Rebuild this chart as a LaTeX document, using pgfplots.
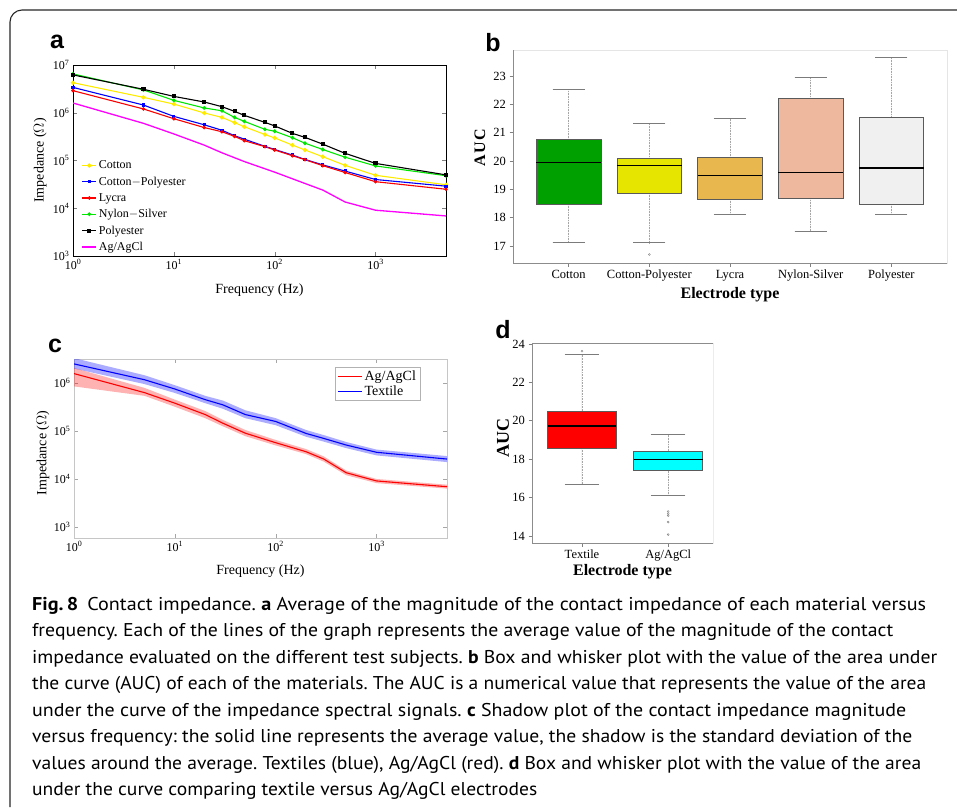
\documentclass[border=0pt]{standalone}
\usepackage{pgfplots}
\pgfplotsset{compat=1.18}
\usepgfplotslibrary{statistics}
\usepackage{graphicx}
\usepackage{fontspec}
\setmainfont{Liberation Serif}
\newfontfamily\capfont{PT Sans}
\newfontfamily\letterfont{Liberation Sans}
\frenchspacing

\definecolor{myyellow}{RGB}{255,235,0}
\definecolor{mygreen}{RGB}{0,230,0}
\definecolor{bgreen}{RGB}{0,160,0}
\definecolor{byellow}{RGB}{229,229,0}
\definecolor{borange}{RGB}{232,184,78}
\definecolor{bsalmon}{RGB}{237,184,158}
\definecolor{bgrey}{RGB}{240,240,240}
\definecolor{boxedge}{RGB}{90,90,90}
\definecolor{dcyan}{RGB}{0,255,255}
\definecolor{dred}{RGB}{255,0,0}
\definecolor{mymag}{RGB}{255,0,255}

% whiskers: dotted stem, solid cap
\pgfplotsset{
  mywhiskers/.style={
    boxplot/draw/lower whisker/.code={%
      \draw[gray!70, densely dotted, line width=0.6pt]
        (boxplot box cs:\pgfplotsboxplotvalue{lower quartile},0.5) --
        (boxplot box cs:\pgfplotsboxplotvalue{lower whisker},0.5);
      \draw[boxedge!80, line width=0.9pt]
        (boxplot whisker cs:\pgfplotsboxplotvalue{lower whisker},0) --
        (boxplot whisker cs:\pgfplotsboxplotvalue{lower whisker},1);
    },
    boxplot/draw/upper whisker/.code={%
      \draw[gray!70, densely dotted, line width=0.6pt]
        (boxplot box cs:\pgfplotsboxplotvalue{upper quartile},0.5) --
        (boxplot box cs:\pgfplotsboxplotvalue{upper whisker},0.5);
      \draw[boxedge!80, line width=0.9pt]
        (boxplot whisker cs:\pgfplotsboxplotvalue{upper whisker},0) --
        (boxplot whisker cs:\pgfplotsboxplotvalue{upper whisker},1);
    },
    boxplot/every median/.style={black, line width=1.3pt},
  },
  mybox/.style={draw=boxedge, line width=0.8pt, mark=o, mark size=1pt,
    mark options={gray, solid, fill=none, line width=0.4pt}},
}

\newcommand{\capline}[3]{%
  \node[anchor=base west, inner sep=0pt] at (32pt,-#1pt)
    {\resizebox{#2pt}{\height}{\capfont\fontsize{18.5}{22}\selectfont #3}};}

\begin{document}
\begin{tikzpicture}[x=1pt,y=1pt]
\useasboundingbox (0,0) rectangle (957,-807);

% figure frame
\draw[line width=1.1pt, black!85, rounded corners=12pt] (10,-807) -- (10,-10) -- (957,-10);

% panel letters
\node[font=\letterfont\bfseries\fontsize{25}{28}\selectfont] at (57,-42) {a};
\node[font=\letterfont\bfseries\fontsize{25}{28}\selectfont] at (493,-43) {b};
\node[font=\letterfont\bfseries\fontsize{25}{28}\selectfont] at (55,-346) {c};
\node[font=\letterfont\bfseries\fontsize{25}{28}\selectfont] at (503,-330) {d};

% ---------------- panel a ----------------
\begin{axis}[
  at={(73pt,-256pt)}, anchor=south west, scale only axis,
  width=373pt, height=191pt,
  xmode=log, ymode=log,
  xmin=1, xmax=5000, ymin=1000, ymax=1e7,
  xtick={1,10,100,1000}, xticklabels={10\textsuperscript{0},10\textsuperscript{1},10\textsuperscript{2},10\textsuperscript{3}},
  ytick={1e3,1e4,1e5,1e6,1e7}, yticklabels={10\textsuperscript{3},10\textsuperscript{4},10\textsuperscript{5},10\textsuperscript{6},10\textsuperscript{7}},
  xminorticks=false, yminorticks=false,
  tick align=inside, major tick length=4pt,
  tick label style={font=\fontsize{12}{14}\selectfont},
  xlabel={Frequency (Hz)}, ylabel={Impedance ($\Omega$)},
  label style={font=\fontsize{14}{16}\selectfont},
  xlabel style={at={(axis description cs:0.5,-0.178)}, anchor=center},
  ylabel style={at={(axis description cs:-0.088,0.5)}, anchor=center},
  axis line style={black, line width=0.8pt},
  every axis plot/.append style={line width=1.1pt},
  legend style={at={(0.02,0.515)}, anchor=north west, draw=none, fill=none,
    font=\fontsize{12}{13}\selectfont, row sep=2.6pt, inner sep=1pt},
  legend cell align=left,
  legend image code/.code={\draw[mark repeat=2,mark phase=2,#1] plot coordinates {(0pt,0pt) (7pt,0pt) (14pt,0pt)};},
]
\addplot[myyellow, mark=*, mark size=1.6pt] coordinates {
 (1,4.26e6) (5,2.1e6) (10,1.52e6) (20,9.9e5) (30,8.0e5) (40,6.2e5) (50,5.1e5) (80,3.5e5)
 (100,2.97e5) (150,2.1e5) (200,1.66e5) (300,1.2e5) (500,7.9e4) (1000,4.9e4) (5000,3.1e4)};
\addlegendentry{Cotton}
\addplot[blue, mark=square*, mark size=1.1pt] coordinates {
 (1,3.4e6) (5,1.45e6) (10,8.4e5) (20,5.6e5) (30,4.3e5) (40,3.3e5) (50,2.8e5) (80,1.98e5)
 (100,1.7e5) (150,1.3e5) (200,1.05e5) (300,8.1e4) (500,6.0e4) (1000,4.0e4) (5000,2.9e4)};
\addlegendentry{Cotton$-$Polyester}
\addplot[red, mark=*, mark size=1.2pt] coordinates {
 (1,2.9e6) (5,1.2e6) (10,7.5e5) (20,4.9e5) (30,4.0e5) (40,3.2e5) (50,2.6e5) (80,1.95e5)
 (100,1.66e5) (150,1.26e5) (200,1.04e5) (300,7.8e4) (500,5.6e4) (1000,3.6e4) (5000,2.5e4)};
\addlegendentry{Lycra}
\addplot[mygreen, mark=*, mark size=1.3pt] coordinates {
 (1,6.5e6) (5,3.0e6) (10,1.82e6) (20,1.26e6) (30,1.1e6) (40,8.0e5) (50,6.6e5) (80,4.5e5)
 (100,4.1e5) (150,3.0e5) (200,2.3e5) (300,1.7e5) (500,1.17e5) (1000,7.7e4) (5000,4.8e4)};
\addlegendentry{Nylon$-$Silver}
\addplot[black, mark=square*, mark size=1.5pt] coordinates {
 (1,6.2e6) (5,3.1e6) (10,2.2e6) (20,1.68e6) (30,1.34e6) (40,1.07e6) (50,8.8e5) (80,6.3e5)
 (100,5.3e5) (150,3.7e5) (200,3.05e5) (300,2.2e5) (500,1.41e5) (1000,8.7e4) (5000,5.0e4)};
\addlegendentry{Polyester}
\addplot[mymag, line width=1.3pt, mark=none] coordinates {
 (1,1.6e6) (5,6.0e5) (10,3.6e5) (20,2.1e5) (30,1.45e5) (50,9.5e4) (100,5.7e4)
 (200,3.3e4) (300,2.4e4) (500,1.35e4) (1000,9.1e3) (5000,6.9e3)};
\addlegendentry{Ag/AgCl}
\end{axis}

% ---------------- panel b ----------------
\begin{axis}[
  at={(513pt,-263pt)}, anchor=south west, scale only axis,
  width=434pt, height=213pt,
  xmin=0.31, xmax=5.69, ymin=16.4, ymax=23.92,
  xtick={1,2,3,4,5}, xticklabels={Cotton,Cotton-Polyester,Lycra,Nylon-Silver,Polyester},
  ytick={17,18,19,20,21,22,23},
  tick align=outside, xtick pos=bottom, ytick pos=left, major tick length=3.5pt,
  tick style={gray, line width=0.8pt},
  tick label style={font=\fontsize{12.5}{14}\selectfont},
  /pgf/number format/assume math mode=true,
  axis line style={gray!20, line width=0.8pt},
  xlabel={\textbf{Electrode type}}, ylabel={\textbf{A\kern1.5pt U\kern1.5pt C}},
  label style={font=\fontsize{16}{18}\selectfont},
  xlabel style={at={(axis description cs:0.5,-0.15)}, anchor=center},
  ylabel style={at={(axis description cs:-0.076,0.54)}, anchor=center},
  boxplot/draw direction=y, boxplot/box extend=0.8, boxplot/whisker extend=0.4,
  mywhiskers,
]
\draw[gray!90, line width=1pt] (rel axis cs:0,1) -- (rel axis cs:0,0) -- (rel axis cs:1,0);
\addplot[mybox, fill=bgreen, boxplot prepared={draw position=1,
  lower whisker=17.12, lower quartile=18.48, median=19.96, upper quartile=20.76, upper whisker=22.54}]
  coordinates {};
\addplot[mybox, fill=byellow, boxplot prepared={draw position=2,
  lower whisker=17.11, lower quartile=18.87, median=19.84, upper quartile=20.1, upper whisker=21.32}]
  coordinates {(0,16.7)};
\addplot[mybox, fill=borange, boxplot prepared={draw position=3,
  lower whisker=18.13, lower quartile=18.65, median=19.49, upper quartile=20.13, upper whisker=21.5}]
  coordinates {};
\addplot[mybox, fill=bsalmon, boxplot prepared={draw position=4,
  lower whisker=17.52, lower quartile=18.68, median=19.6, upper quartile=22.22, upper whisker=22.96}]
  coordinates {};
\addplot[mybox, fill=bgrey, boxplot prepared={draw position=5,
  lower whisker=18.13, lower quartile=18.48, median=19.75, upper quartile=21.53, upper whisker=23.66}]
  coordinates {};
\end{axis}

% ---------------- panel c ----------------
\begin{axis}[
  at={(74pt,-538pt)}, anchor=south west, scale only axis,
  width=373pt, height=179pt,
  xmode=log, ymode=log,
  xmin=1, xmax=5000, ymin=10^2.77, ymax=10^6.5,
  xtick={1,10,100,1000}, xticklabels={10\textsuperscript{0},10\textsuperscript{1},10\textsuperscript{2},10\textsuperscript{3}},
  ytick={1e3,1e4,1e5,1e6}, yticklabels={10\textsuperscript{3},10\textsuperscript{4},10\textsuperscript{5},10\textsuperscript{6}},
  xminorticks=false, yminorticks=false,
  tick align=inside, major tick length=4pt, tick style={gray!70},
  tick label style={font=\fontsize{12}{14}\selectfont},
  xlabel={Frequency (Hz)}, ylabel={Impedance ($\Omega$)},
  label style={font=\fontsize{14}{16}\selectfont},
  xlabel style={at={(axis description cs:0.5,-0.184)}, anchor=center},
  ylabel style={at={(axis description cs:-0.083,0.475)}, anchor=center},
  axis line style={gray!45, line width=0.8pt},
  legend style={at={(0.928,0.955)}, anchor=north east, draw=gray!60,
    font=\fontsize{14}{16}\selectfont, row sep=-1pt, inner sep=2pt},
  legend cell align=left,
  legend image code/.code={\draw[#1] (0pt,0pt) -- (24pt,0pt);},
]
\addplot[draw=none, fill=red, fill opacity=0.3, forget plot] coordinates {
 (1,2.05e6) (5,7.9e5) (10,4.5e5) (20,2.6e5) (30,1.7e5) (50,1.05e5) (100,6.5e4) (200,4.2e4)
 (300,2.95e4) (500,1.5e4) (1000,1.0e4) (5000,7.6e3)
 (5000,6.3e3) (1000,8.2e3) (500,1.2e4) (300,2.3e4) (200,3.3e4) (100,5.0e4) (50,7.8e4)
 (30,1.25e5) (20,1.85e5) (10,3.2e5) (5,5.4e5) (1,8.5e5)} -- cycle;
\addplot[draw=none, fill=blue, fill opacity=0.33, forget plot] coordinates {
 (1,3.3e6) (5,1.45e6) (10,9.0e5) (20,5.4e5) (30,4.3e5) (50,2.7e5) (100,1.85e5) (200,1.05e5)
 (300,8.2e4) (500,5.9e4) (1000,4.1e4) (5000,3.0e4)
 (5000,2.25e4) (1000,3.1e4) (500,4.4e4) (300,6.0e4) (200,7.6e4) (100,1.32e5) (50,1.85e5)
 (30,2.9e5) (20,3.8e5) (10,6.2e5) (5,9.5e5) (1,2.0e6)} -- cycle;
\addplot[red, line width=1.1pt] coordinates {
 (1,1.57e6) (5,6.3e5) (10,3.8e5) (20,2.2e5) (30,1.45e5) (50,9.0e4) (100,5.7e4) (200,3.7e4)
 (300,2.6e4) (500,1.35e4) (1000,9.1e3) (5000,6.9e3)};
\addlegendentry{Ag/AgCl}
\addplot[blue, line width=1.1pt] coordinates {
 (1,2.5e6) (5,1.17e6) (10,7.5e5) (20,4.5e5) (30,3.5e5) (50,2.2e5) (100,1.58e5) (200,8.9e4)
 (300,7.0e4) (500,5.1e4) (1000,3.6e4) (5000,2.6e4)};
\addlegendentry{Textile}
\end{axis}

% ---------------- panel d ----------------
\begin{axis}[
  at={(532pt,-543pt)}, anchor=south west, scale only axis,
  width=181pt, height=200pt,
  xmin=0.42, xmax=2.52, ymin=13.64, ymax=24.05,
  xtick={1,2}, xticklabels={Textile,Ag/AgCl},
  ytick={14,16,18,20,22,24},
  tick align=outside, xtick pos=bottom, ytick pos=left, major tick length=3.5pt,
  tick style={gray, line width=0.8pt},
  tick label style={font=\fontsize{12.5}{14}\selectfont},
  /pgf/number format/assume math mode=true,
  axis line style={gray!15, line width=0.8pt},
  xlabel={\textbf{Electrode type}}, ylabel={\textbf{AUC}},
  xlabel style={font=\fontsize{16}{18}\selectfont, at={(axis description cs:0.5,-0.145)}, anchor=center},
  ylabel style={font=\fontsize{18}{20}\selectfont, at={(axis description cs:-0.16,0.525)}, anchor=center},
  boxplot/draw direction=y, boxplot/box extend=0.8, boxplot/whisker extend=0.4,
  mywhiskers,
]
\draw[gray!90, line width=1pt] (rel axis cs:1,1) -- (rel axis cs:0,1) -- (rel axis cs:0,0) -- (rel axis cs:1,0);
\addplot[mybox, fill=dred, boxplot prepared={draw position=1,
  lower whisker=16.7, lower quartile=18.59, median=19.73, upper quartile=20.51, upper whisker=23.43}]
  coordinates {(0,23.63)};
\addplot[mybox, fill=dcyan, boxplot prepared={draw position=2,
  lower whisker=16.12, lower quartile=17.4, median=18.0, upper quartile=18.43, upper whisker=19.28}]
  coordinates {(0,15.28) (0,15.17) (0,15.07) (0,14.73) (0,14.08)};
\end{axis}

% ---------------- caption ----------------
\capline{610}{894}{{\bfseries Fig.\,8}\hspace{0.45em}Contact impedance. {\bfseries a} Average of the magnitude of the contact impedance of each material versus}
\capline{636.5}{861}{frequency. Each of the lines of the graph represents the average value of the magnitude of the contact}
\capline{663}{905}{impedance evaluated on the different test subjects. {\bfseries b} Box and whisker plot with the value of the area under}
\capline{689.5}{894}{the curve (AUC) of each of the materials. The AUC is a numerical value that represents the value of the area}
\capline{716}{874}{under the curve of the impedance spectral signals. {\bfseries c} Shadow plot of the contact impedance magnitude}
\capline{742.5}{880}{versus frequency: the solid line represents the average value, the shadow is the standard deviation of the}
\capline{769}{889}{values around the average. Textiles (blue), Ag/AgCl (red). {\bfseries d} Box and whisker plot with the value of the area}
\capline{795.5}{505}{under the curve comparing textile versus Ag/AgCl electrodes}
\end{tikzpicture}
\end{document}
